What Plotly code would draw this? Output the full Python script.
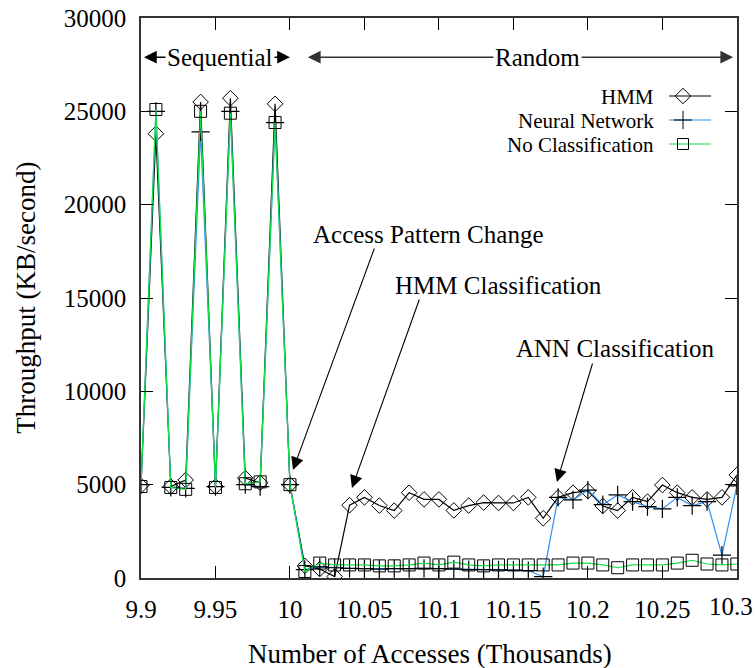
import plotly.graph_objects as go

x_vals = [9.90, 9.91, 9.92, 9.93, 9.94, 9.95, 9.96, 9.97, 9.98, 9.99,
          10.00, 10.01, 10.02, 10.03, 10.04, 10.05, 10.06, 10.07, 10.08, 10.09,
          10.10, 10.11, 10.12, 10.13, 10.14, 10.15, 10.16, 10.17, 10.18, 10.19,
          10.20, 10.21, 10.22, 10.23, 10.24, 10.25, 10.26, 10.27, 10.28, 10.29, 10.30]

hmm = [4950, 23800, 4900, 5250, 25500, 4900, 25700, 5350, 5100, 25400,
       5000, 650, 480, 80, 3900, 4320, 3880, 3610, 4570, 4210,
       4210, 3620, 3880, 4040, 4020, 4020, 4320, 3200, 4320, 4570,
       4660, 3860, 3610, 4320, 4090, 4980, 4570, 4320, 4210, 4320, 5520]

nn = [5000, 25000, 4850, 4800, 23900, 4900, 25000, 5000, 4900, 24400,
      5000, 450, 600, 550, 520, 500, 480, 500, 500, 520,
      500, 480, 450, 450, 430, 420, 400, 70, 4320, 4180,
      4710, 3930, 4450, 4090, 3820, 3700, 4320, 3880, 4090, 1230, 4930]

noc = [4900, 25100, 4850, 4750, 25000, 4850, 24900, 5050, 5150, 24400,
       5000, 350, 800, 700, 700, 700, 650, 650, 700, 800,
       700, 850, 700, 650, 700, 700, 700, 700, 700, 800,
       800, 700, 550, 700, 700, 700, 800, 950, 750, 700, 750]

series_names = ["HMM", "Neural Network", "No Classification"]
x_tick_vals = [9.9, 9.95, 10.0, 10.05, 10.1, 10.15, 10.2, 10.25, 10.3]
x_tick_text = ["9.9", "9.95", "10", "10.05", "10.1", "10.15", "10.2", "10.25", "10.3"]
y_tick_vals = [0, 5000, 10000, 15000, 20000, 25000, 30000]
y_tick_text = ["0", "5000", "10000", "15000", "20000", "25000", "30000"]

FONT = "Liberation Serif, Times New Roman, Tinos, serif"
C_HMM = "black"
C_NN = "#2f8ff0"
C_NOC = "#10e040"

fig = go.Figure()

fig.add_trace(go.Scatter(x=x_vals, y=hmm, mode="lines+markers", name=series_names[0],
                         line=dict(color=C_HMM, width=1.2),
                         marker=dict(symbol="diamond-open", size=12, color="black", line=dict(width=1)),
                         showlegend=False))
fig.add_trace(go.Scatter(x=x_vals, y=nn, mode="lines+markers", name=series_names[1],
                         line=dict(color=C_NN, width=1.2),
                         marker=dict(symbol="cross-thin-open", size=13, color="black", line=dict(width=1.2, color="black")),
                         showlegend=False))
fig.add_trace(go.Scatter(x=x_vals, y=noc, mode="lines+markers", name=series_names[2],
                         line=dict(color=C_NOC, width=1.2),
                         marker=dict(symbol="square-open", size=12, color="black", line=dict(width=1)),
                         showlegend=False))

# Legend samples on overlay pixel axes
leg_rows = [96, 120, 144]
leg_styles = [
    (C_HMM, "diamond-open", 12),
    (C_NN, "cross-thin-open", 13),
    (C_NOC, "square-open", 11),
]
for (col, sym, sz), yy in zip(leg_styles, leg_rows):
    fig.add_trace(go.Scatter(x=[669, 711], y=[yy, yy], mode="lines", xaxis="x2", yaxis="y2",
                             line=dict(color=col, width=1.2), showlegend=False, hoverinfo="skip"))
    fig.add_trace(go.Scatter(x=[683], y=[yy], mode="markers", xaxis="x2", yaxis="y2",
                             marker=dict(symbol=sym, size=sz, color="black", line=dict(width=1, color="black")),
                             showlegend=False, hoverinfo="skip"))

annotations = []
for name, yy in zip(series_names, leg_rows):
    annotations.append(dict(x=656, y=yy, xref="x2", yref="y2", text=name, showarrow=False,
                            xanchor="right", yanchor="middle", yshift=-1,
                            font=dict(family=FONT, size=21, color="black")))

# Sequential / Random double arrows
arrow_y = 27900
annotations.append(dict(x=10.0, y=arrow_y, ax=9.901, ay=arrow_y, xref="x", yref="y", axref="x", ayref="y",
                        text="", showarrow=True, arrowhead=2, startarrowhead=2, arrowside="end+start",
                        arrowsize=1.7, startarrowsize=1.7, arrowwidth=1.5, arrowcolor="black"))
annotations.append(dict(x=10.2975, y=arrow_y, ax=10.011, ay=arrow_y, xref="x", yref="y", axref="x", ayref="y",
                        text="", showarrow=True, arrowhead=2, startarrowhead=2, arrowside="end+start",
                        arrowsize=1.7, startarrowsize=1.7, arrowwidth=1.5, arrowcolor="#333333"))
annotations.append(dict(x=9.953, y=arrow_y, xref="x", yref="y", text="Sequential", showarrow=False,
                        bgcolor="white", borderpad=1, font=dict(family=FONT, size=25, color="black")))
annotations.append(dict(x=10.166, y=arrow_y, xref="x", yref="y", text="Random", showarrow=False,
                        bgcolor="white", borderpad=1, font=dict(family=FONT, size=25, color="black")))

# Callouts
callouts = [
    ("Access Pattern Change", 10.0926, 18430, 10.057, 17730, 10.002, 5790),
    ("HMM Classification", 10.1403, 15700, 10.0872, 15000, 10.0416, 4820),
    ("ANN Classification", 10.2181, 12375, 10.2034, 11570, 10.1792, 5140),
]
for txt, tx, ty, ax_, ay_, hx, hy in callouts:
    annotations.append(dict(x=tx, y=ty, xref="x", yref="y", text=txt, showarrow=False, yshift=-1,
                            font=dict(family=FONT, size=25, color="black")))
    annotations.append(dict(x=hx, y=hy, ax=ax_, ay=ay_, xref="x", yref="y", axref="x", ayref="y",
                            text="", showarrow=True, arrowhead=2, arrowsize=2.3, arrowwidth=1.1,
                            arrowcolor="black"))

# Last x tick label placed so it stays inside the page
annotations.append(dict(x=1.0302, y=-0.05, xref="paper", yref="paper", text=x_tick_text[-1],
                        showarrow=False, xanchor="right", yanchor="middle",
                        font=dict(family=FONT, size=25, color="black")))

# Axis titles
annotations.append(dict(x=0.485, y=-0.132, xref="paper", yref="paper", text="Number of Accesses (Thousands)",
                        showarrow=False, xanchor="center", yanchor="middle", yshift=-2,
                        font=dict(family=FONT, size=27, color="black")))
annotations.append(dict(x=-0.19, y=0.5, xref="paper", yref="paper", text="Throughput (KB/second)",
                        textangle=-90, showarrow=False, xanchor="center", yanchor="middle", xshift=-2,
                        font=dict(family=FONT, size=27, color="black")))

fig.update_layout(
    width=756, height=668,
    margin=dict(l=141, r=19, t=18, b=90, autoexpand=False),
    paper_bgcolor="white", plot_bgcolor="white",
    font=dict(family=FONT, size=24, color="black"),
    xaxis=dict(range=[9.9, 10.3001], tickvals=x_tick_vals, ticktext=x_tick_text[:-1] + [""],
               ticks="inside", ticklen=12, tickwidth=1, tickcolor="black",
               showline=True, linecolor="#333333", linewidth=1.5, mirror="ticks",
               showgrid=False, zeroline=False, ticklabelstandoff=8, ticklabeloverflow="allow",
               automargin=False,
               tickfont=dict(family=FONT, size=25, color="black")),
    yaxis=dict(range=[0, 30000], tickvals=y_tick_vals, ticktext=y_tick_text,
               ticks="inside", ticklen=12, tickwidth=1, tickcolor="black",
               showline=True, linecolor="#333333", linewidth=1.5, mirror="ticks",
               showgrid=False, zeroline=False, ticklabelstandoff=8, automargin=False,
               tickfont=dict(family=FONT, size=25, color="black")),
    xaxis2=dict(range=[141, 737], overlaying="x", visible=False, fixedrange=True, automargin=False),
    yaxis2=dict(range=[578, 18], overlaying="y", visible=False, fixedrange=True, automargin=False),
    annotations=annotations,
)

fig.write_html("out.html", config={"displayModeBar": False},
               post_script="document.body.style.margin='0';document.body.style.padding='0';document.body.style.overflow='hidden';")
